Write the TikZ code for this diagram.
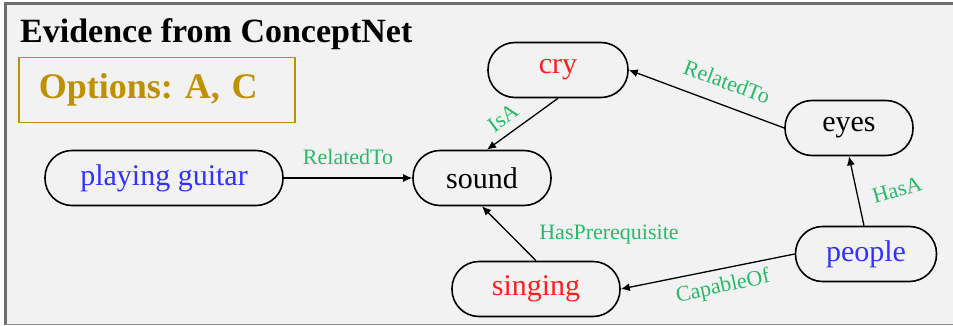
\documentclass[tikz,border=0pt]{standalone}
\usepackage{fontspec}
\setmainfont{Liberation Serif}
\usetikzlibrary{arrows.meta}
\frenchspacing
\definecolor{bgc}{HTML}{F2F2F2}
\definecolor{lblgreen}{RGB}{40,185,105}
\definecolor{nblue}{RGB}{50,50,255}
\definecolor{nred}{RGB}{255,30,30}
\definecolor{gold}{HTML}{BF9000}
\definecolor{framec}{RGB}{110,110,110}
\tikzset{
  concept/.style={draw=black, line width=1.6pt, rectangle, rounded corners=27pt,
    minimum height=55pt, inner sep=0pt, font=\fontsize{30}{35}\selectfont},
  rel/.style={line width=1.3pt, -{Latex[length=9pt,width=8pt]}},
  rlabel/.style={text=lblgreen, font=\fontsize{22}{26}\selectfont, inner sep=0pt}
}
\begin{document}
\begin{tikzpicture}[x=1pt,y=-1pt]
\useasboundingbox (0,0) rectangle (953,326);
\fill[white] (0,0) rectangle (953,326);
\fill[bgc] (5,3) rectangle (953,325);
\draw[framec, line width=3pt] (5.5,3.5) -- (953,3.5);
\draw[framec, line width=3pt] (5.5,2) -- (5.5,325);
\draw[framec!80, line width=1.5pt] (5,324.5) -- (953,324.5);

\node[anchor=base west, inner sep=0pt, font=\bfseries\fontsize{34}{39}\selectfont] (title) at (20,43) {Evidence from ConceptNet};
\node[draw=gold, line width=1.5pt, text=gold, anchor=north west, minimum width=276pt, minimum height=65pt,
  text width=256pt, align=left, inner sep=0pt, font=\bfseries\fontsize{36}{42}\selectfont] (opts) at (18,57) {\hspace*{10pt}\raisebox{-2pt}{Options: A, C}};

\node[concept, minimum width=238pt, text=nblue] (guitar) at (164,178) {playing guitar};
\node[concept, minimum width=138pt] (sound) at (482,178) {sound};
\node[concept, minimum width=140pt, text=nred] (cry) at (558,70) {cry};
\node[concept, minimum width=128pt] (eyes) at (849,128) {eyes};
\node[concept, minimum width=141pt, text=nblue] (people) at (866,254) {people};
\node[concept, minimum width=168pt, text=nred] (singing) at (536,289) {singing};

\draw[rel] (guitar) -- (sound);
\draw[rel] (cry.south) -- ([xshift=5pt]sound.north);
\draw[rel] (eyes.west) -- (cry.east);
\draw[rel] ([xshift=-2pt]people.north) -- (eyes.south);
\draw[rel] (singing.north) -- (sound.south);
\draw[rel] (people.west) -- (singing.east);

\node[rlabel] (l1) at (348,157) {RelatedTo};
\node[rlabel, rotate=36] (l2) at (503,118) {IsA};
\node[rlabel, rotate=-20.5] (l3) at (727,82) {RelatedTo};
\node[rlabel, rotate=16] (l4) at (897,190) {HasA};
\node[rlabel] (l5) at (609,235) {HasPrerequisite};
\node[rlabel, rotate=12] (l6) at (723,287) {CapableOf};
\end{tikzpicture}
\end{document}
